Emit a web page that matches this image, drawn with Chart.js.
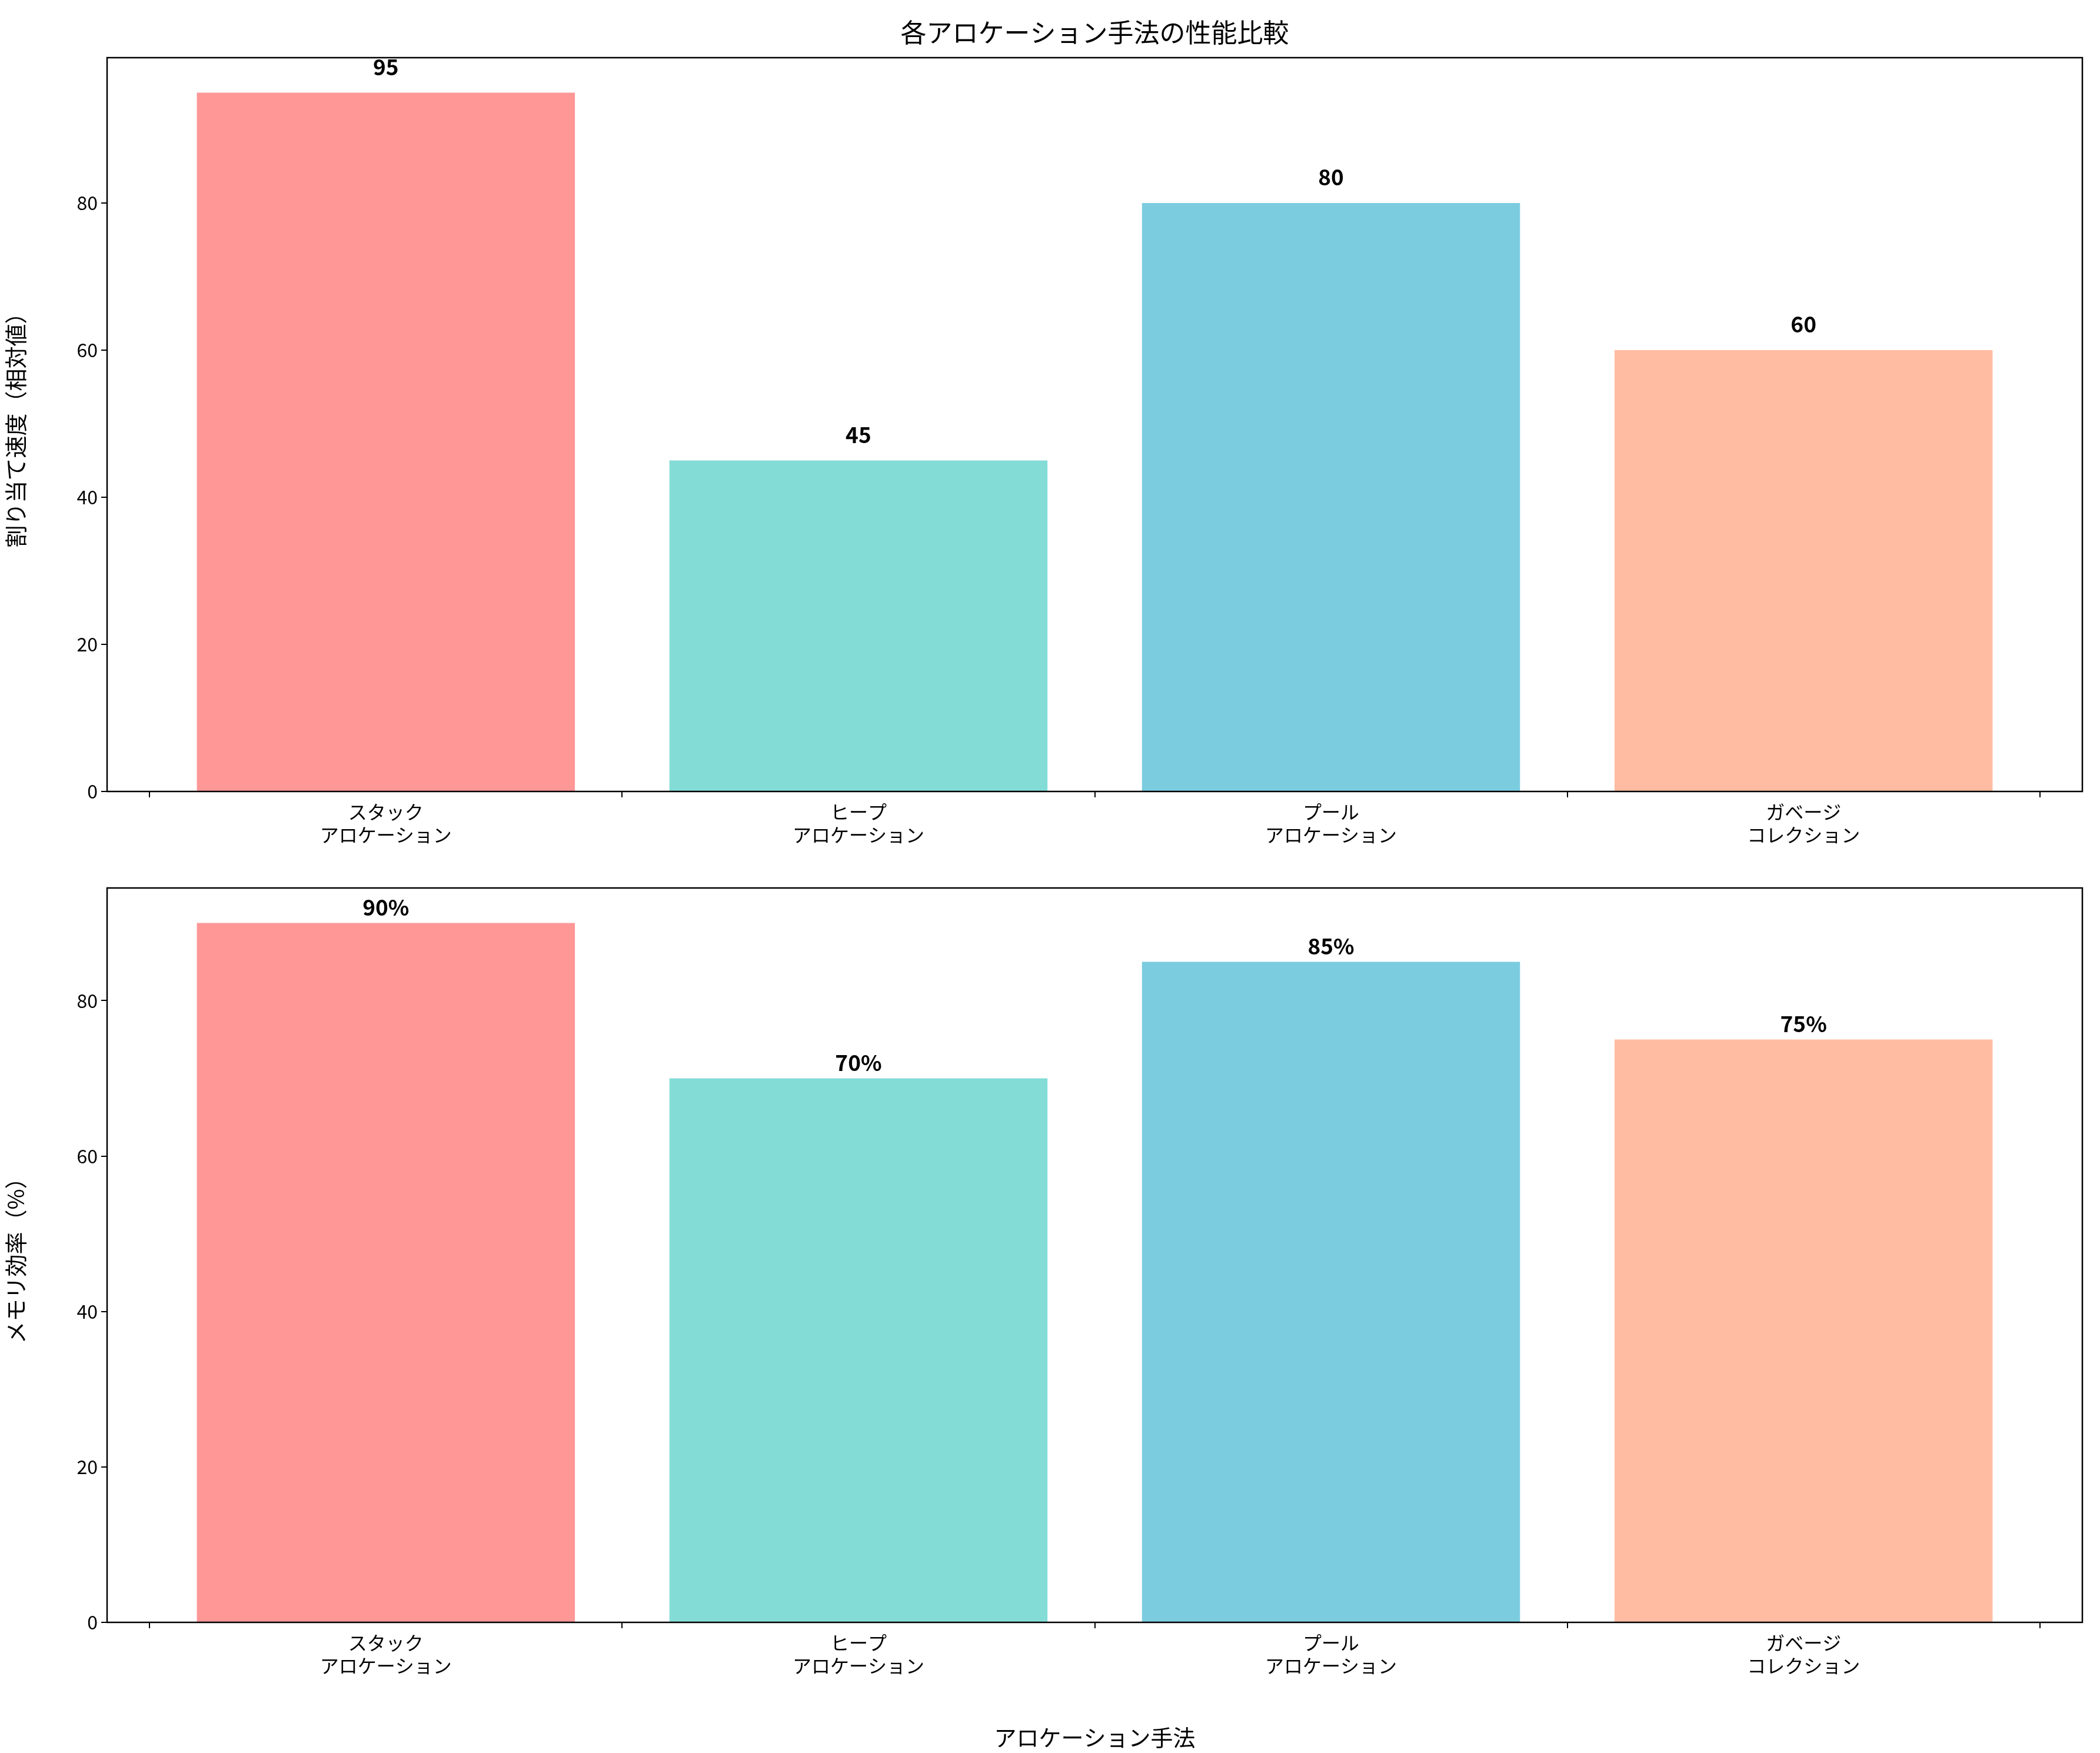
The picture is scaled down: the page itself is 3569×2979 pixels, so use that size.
<!DOCTYPE html>
<html><head><meta charset="utf-8">
<script src="https://cdn.jsdelivr.net/npm/chart.js@4/dist/chart.umd.min.js"></script>
<style>body{margin:0;background:#fff}div{position:absolute;left:0;width:3569px}</style>
</head><body>
<div id="d1" style="top:0;height:1460px"><canvas id="c1"></canvas></div>
<div id="d2" style="top:1460px;height:1519px"><canvas id="c2"></canvas></div>
<script>
const categories=[["スタック","アロケーション"],["ヒープ","アロケーション"],["プール","アロケーション"],["ガベージ","コレクション"]];
const speedValues=[95,45,80,60];
const memoryValues=[90,70,85,75];
const yTicks=[0,20,40,60,80];
const colors=['rgba(255,107,107,0.7)','rgba(78,205,196,0.7)','rgba(69,183,209,0.7)','rgba(255,160,122,0.7)'];
const FONT='"Noto Sans CJK JP","DejaVu Sans",sans-serif';
Chart.defaults.font.family=FONT;
Chart.defaults.color='#000';
function make(id,vals,ymax,suffix,yTitle,xTitle,padTop,xh,title,labOff){
  const plug={id:'p'+id,afterDatasetsDraw(ch){
    const c=ch.ctx,a=ch.chartArea,xs=ch.scales.x,ys=ch.scales.y;
    c.save();c.strokeStyle='#000';c.lineWidth=2.5;c.strokeRect(a.left,a.top,a.right-a.left,a.bottom-a.top);
    c.font='bold 37px '+FONT;c.textAlign='center';c.textBaseline='bottom';c.fillStyle='#000';
    vals.forEach((v,i)=>c.fillText(v+suffix,xs.getPixelForValue(i),ys.getPixelForValue(v+labOff)));
    if(title){c.font='44px '+FONT;c.textBaseline='middle';c.fillText(title,(a.left+a.right)/2,55);}
    c.restore();}};
  return new Chart(document.getElementById(id),{type:'bar',
    data:{datasets:[{data:vals.map((v,i)=>({x:i,y:v})),backgroundColor:colors,barPercentage:0.8,categoryPercentage:1}]},
    options:{responsive:true,maintainAspectRatio:false,animation:false,devicePixelRatio:1,
      layout:{padding:{top:padTop,right:30,left:0,bottom:0}},
      plugins:{legend:{display:false},tooltip:{enabled:false}},
      scales:{
        x:{type:'linear',min:-0.59,max:3.59,offset:false,
          afterBuildTicks:s=>{s.ticks=[0,1,2,3].map(v=>({value:v}));},
          afterFit:s=>{s.height=xh;},
          grid:{drawOnChartArea:false,tickLength:10,color:'#000',lineWidth:2},border:{display:false},
          ticks:{font:{size:32},callback:v=>categories[v],padding:6,maxRotation:0},
          title:{display:!!xTitle,text:xTitle,font:{size:38},padding:{top:8}}},
        y:{min:0,max:ymax,
          afterBuildTicks:s=>{s.ticks=yTicks.map(v=>({value:v}));},
          afterFit:s=>{s.width=182;},
          grid:{drawOnChartArea:false,tickLength:10,color:'#000',lineWidth:2},border:{display:false},
          ticks:{font:{size:32},padding:6},
          title:{display:true,text:yTitle,font:{size:38},padding:{bottom:12}}}}},
    plugins:[plug]});
}
make('c1',speedValues,99.75,'','割り当て速度（相対値）','',98,115,'各アロケーション手法の性能比較',2);
make('c2',memoryValues,94.5,'%','メモリ効率（%）','アロケーション手法',49,222,null,0.6);
</script></body></html>
